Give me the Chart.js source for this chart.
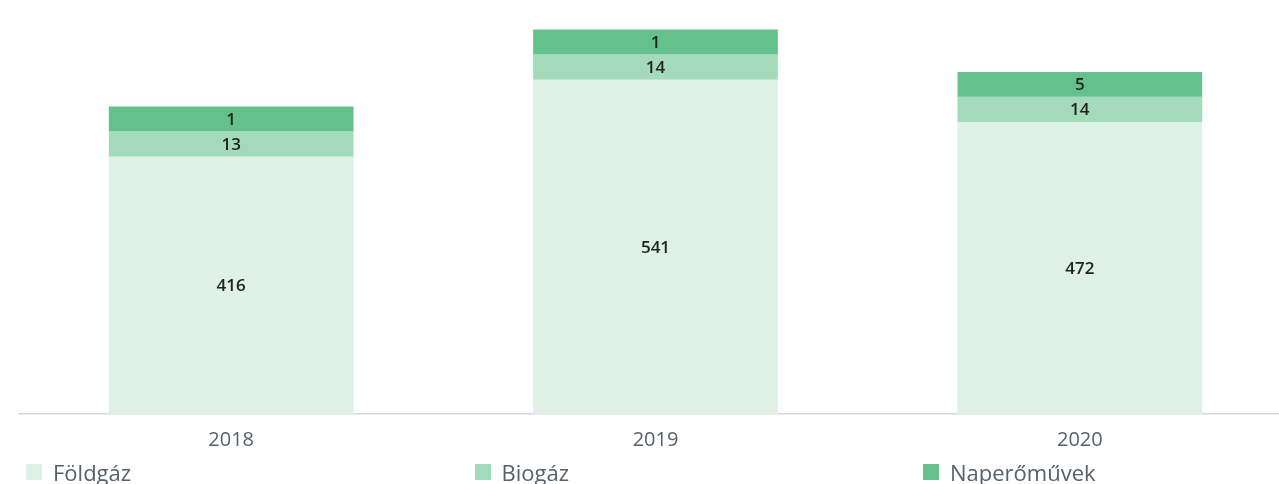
<!DOCTYPE html>
<html>
<head>
<meta charset="utf-8">
<script src="https://cdn.jsdelivr.net/npm/chart.js@4/dist/chart.umd.min.js"></script>
<style>
  html, body { margin: 0; padding: 0; background: #fff; overflow: hidden; width: 1279px; height: 484px; }
  #wrap { position: absolute; left: 0; top: 0; width: 1292px; height: 466px; }
  #legend { position: absolute; left: 26px; top: 462px; display: flex; font-family: "Open Sans", sans-serif; font-size: 22px; color: #58616a; }
  .item { width: 448.5px; display: flex; align-items: center; height: 20px; }
  .sw { width: 16px; height: 16px; margin-right: 11px; flex: none; }
</style>
</head>
<body>
<div id="wrap"><canvas id="c"></canvas></div>
<div id="legend"></div>
<script>
const categories = ["2018", "2019", "2020"];
const seriesNames = ["Földgáz", "Biogáz", "Naperőművek"];
const foldgaz = [416, 541, 472];
const biogaz = [13, 14, 14];
const naperomuvek = [1, 1, 5];
const seriesColors = ["#dff0e6", "#a3dab9", "#64c18b"];
const minSegmentPx = [0, 25.5, 24.5];

// Enforce a minimum visible height for small stacked segments and restack them
const minHeightPlugin = {
  id: 'minHeight',
  afterDatasetsUpdate(chart) {
    const n = chart.data.labels.length;
    for (let i = 0; i < n; i++) {
      let cur = null;
      chart.data.datasets.forEach((ds, d) => {
        const el = chart.getDatasetMeta(d).data[i];
        if (!el) return;
        if (cur === null) cur = el.base;
        let h = Math.max(el.base - el.y, minSegmentPx[d]);
        el.base = cur;
        el.y = cur - h;
        cur = el.y;
      });
    }
  }
};

const valueLabelPlugin = {
  id: 'valueLabels',
  afterDatasetsDraw(chart) {
    const ctx = chart.ctx;
    ctx.save();
    ctx.font = '600 17px "Open Sans", sans-serif';
    ctx.fillStyle = '#222';
    ctx.textAlign = 'center';
    ctx.textBaseline = 'middle';
    chart.data.datasets.forEach((ds, d) => {
      chart.getDatasetMeta(d).data.forEach((el, i) => {
        const cy = (el.y + el.base) / 2 + 1;
        ctx.fillText(String(ds.data[i]), el.x, cy);
      });
    });
    ctx.restore();
  }
};

const chart = new Chart(document.getElementById('c'), {
  type: 'bar',
  data: {
    labels: categories,
    datasets: [
      { label: seriesNames[0], data: foldgaz, backgroundColor: seriesColors[0] },
      { label: seriesNames[1], data: biogaz, backgroundColor: seriesColors[1] },
      { label: seriesNames[2], data: naperomuvek, backgroundColor: seriesColors[2] }
    ]
  },
  options: {
    responsive: true,
    maintainAspectRatio: false,
    animation: false,
    layout: { padding: { left: 19, right: 0, top: 0, bottom: 0 } },
    datasets: { bar: { barThickness: 244, borderWidth: 0 } },
    plugins: { legend: { display: false }, tooltip: { enabled: false } },
    scales: {
      x: {
        stacked: true,
        grid: { display: false, drawTicks: false },
        border: { display: true, color: '#d3d8df', width: 1.5 },
        ticks: { color: '#58616a', padding: 14, font: { family: 'Open Sans', size: 20 } }
      },
      y: {
        stacked: true,
        display: false,
        min: 0,
        max: 670
      }
    }
  },
  plugins: [minHeightPlugin, valueLabelPlugin]
});

const leg = document.getElementById('legend');
chart.data.datasets.forEach(ds => {
  const it = document.createElement('div'); it.className = 'item';
  const sw = document.createElement('span'); sw.className = 'sw'; sw.style.background = ds.backgroundColor;
  const tx = document.createElement('span'); tx.textContent = ds.label;
  it.appendChild(sw); it.appendChild(tx); leg.appendChild(it);
});
</script>
</body>
</html>
